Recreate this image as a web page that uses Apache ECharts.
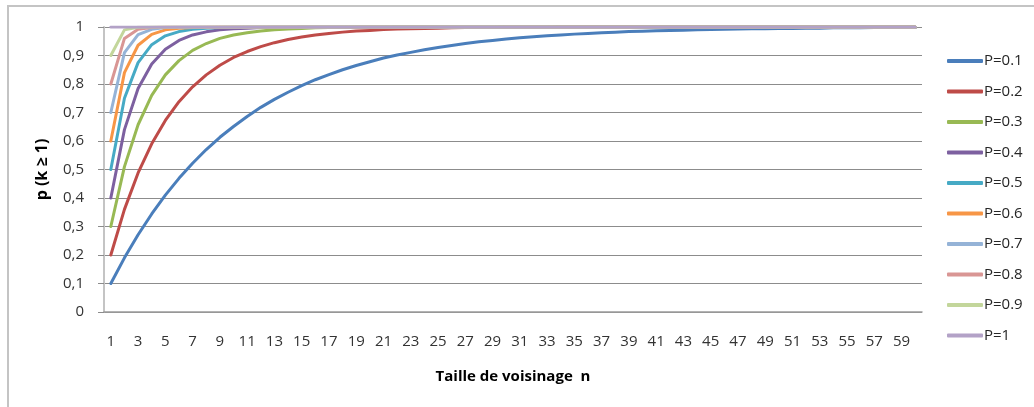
<!DOCTYPE html>
<html>
<head>
<meta charset="utf-8">
<script src="https://cdn.jsdelivr.net/npm/echarts@6/dist/echarts.min.js"></script>
<style>
  html, body { margin: 0; padding: 0; background: #ffffff; }
  #chart { width: 1034px; height: 407px; }
</style>
</head>
<body>
<div id="chart"></div>
<script>
// Neighbourhood size n (x axis categories)
const categories = [
  '1','2','3','4','5','6','7','8','9','10',
  '11','12','13','14','15','16','17','18','19','20',
  '21','22','23','24','25','26','27','28','29','30',
  '31','32','33','34','35','36','37','38','39','40',
  '41','42','43','44','45','46','47','48','49','50',
  '51','52','53','54','55','56','57','58','59','60'
];

const seriesNames = ['P=0.1','P=0.2','P=0.3','P=0.4','P=0.5','P=0.6','P=0.7','P=0.8','P=0.9','P=1'];

const p01 = [
  0.100,0.190,0.271,0.344,0.410,0.469,0.522,0.570,0.613,0.651,
  0.686,0.718,0.746,0.771,0.794,0.815,0.833,0.850,0.865,0.878,
  0.891,0.902,0.911,0.920,0.928,0.935,0.942,0.948,0.953,0.958,
  0.962,0.966,0.969,0.972,0.975,0.977,0.980,0.982,0.984,0.985,
  0.987,0.988,0.989,0.990,0.991,0.992,0.993,0.994,0.994,0.995,
  0.995,0.996,0.996,0.997,0.997,0.997,0.998,0.998,0.998,0.998
];
const p02 = [
  0.200,0.360,0.488,0.590,0.672,0.738,0.790,0.832,0.866,0.893,
  0.914,0.931,0.945,0.956,0.965,0.972,0.977,0.982,0.986,0.988,
  0.991,0.993,0.994,0.995,0.996,0.997,0.998,0.998,0.998,0.999,
  0.999,0.999,0.999,1,1,1,1,1,1,1,
  1,1,1,1,1,1,1,1,1,1,
  1,1,1,1,1,1,1,1,1,1
];
const p03 = [
  0.300,0.510,0.657,0.760,0.832,0.882,0.918,0.942,0.960,0.972,
  0.980,0.986,0.990,0.993,0.995,0.997,0.998,0.998,0.999,0.999,
  0.999,1,1,1,1,1,1,1,1,1,
  1,1,1,1,1,1,1,1,1,1,
  1,1,1,1,1,1,1,1,1,1,
  1,1,1,1,1,1,1,1,1,1
];
const p04 = [
  0.400,0.640,0.784,0.870,0.922,0.953,0.972,0.983,0.990,0.994,
  0.996,0.998,0.999,0.999,1,1,1,1,1,1,
  1,1,1,1,1,1,1,1,1,1,
  1,1,1,1,1,1,1,1,1,1,
  1,1,1,1,1,1,1,1,1,1,
  1,1,1,1,1,1,1,1,1,1
];
const p05 = [
  0.500,0.750,0.875,0.938,0.969,0.984,0.992,0.996,0.998,0.999,
  1,1,1,1,1,1,1,1,1,1,
  1,1,1,1,1,1,1,1,1,1,
  1,1,1,1,1,1,1,1,1,1,
  1,1,1,1,1,1,1,1,1,1,
  1,1,1,1,1,1,1,1,1,1
];
const p06 = [
  0.600,0.840,0.936,0.974,0.990,0.996,0.998,0.999,1,1,
  1,1,1,1,1,1,1,1,1,1,
  1,1,1,1,1,1,1,1,1,1,
  1,1,1,1,1,1,1,1,1,1,
  1,1,1,1,1,1,1,1,1,1,
  1,1,1,1,1,1,1,1,1,1
];
const p07 = [
  0.700,0.910,0.973,0.992,0.998,0.999,1,1,1,1,
  1,1,1,1,1,1,1,1,1,1,
  1,1,1,1,1,1,1,1,1,1,
  1,1,1,1,1,1,1,1,1,1,
  1,1,1,1,1,1,1,1,1,1,
  1,1,1,1,1,1,1,1,1,1
];
const p08 = [
  0.800,0.960,0.992,0.998,1,1,1,1,1,1,
  1,1,1,1,1,1,1,1,1,1,
  1,1,1,1,1,1,1,1,1,1,
  1,1,1,1,1,1,1,1,1,1,
  1,1,1,1,1,1,1,1,1,1,
  1,1,1,1,1,1,1,1,1,1
];
const p09 = [
  0.900,0.990,0.999,1,1,1,1,1,1,1,
  1,1,1,1,1,1,1,1,1,1,
  1,1,1,1,1,1,1,1,1,1,
  1,1,1,1,1,1,1,1,1,1,
  1,1,1,1,1,1,1,1,1,1,
  1,1,1,1,1,1,1,1,1,1
];
const p10 = [
  1,1,1,1,1,1,1,1,1,1,
  1,1,1,1,1,1,1,1,1,1,
  1,1,1,1,1,1,1,1,1,1,
  1,1,1,1,1,1,1,1,1,1,
  1,1,1,1,1,1,1,1,1,1,
  1,1,1,1,1,1,1,1,1,1
];

const seriesValues = [p01, p02, p03, p04, p05, p06, p07, p08, p09, p10];

const palette = [
  '#4A7EBB', '#BE4B48', '#98B954', '#7D60A0', '#46AAC5',
  '#F79646', '#95B3D7', '#D99694', '#C3D69B', '#B3A2C7'
];

const FONT = 'Open Sans';

const chart = echarts.init(document.getElementById('chart'), null, { renderer: 'canvas' });

chart.setOption({
  animation: false,
  color: palette,
  textStyle: { fontFamily: FONT },
  grid: { left: 104, right: 112, top: 27, bottom: 95, containLabel: false },
  legend: {
    orient: 'vertical',
    left: 947,
    top: 53,
    padding: 0,
    icon: 'roundRect',
    itemWidth: 36,
    itemHeight: 4,
    itemGap: 14.5,
    data: seriesNames,
    textStyle: { fontFamily: FONT, fontSize: 15, color: '#262626', lineHeight: 16, padding: [0, 0, 0, -4] }
  },
  xAxis: {
    type: 'category',
    data: categories,
    boundaryGap: true,
    name: 'Taille de voisinage  n',
    nameLocation: 'middle',
    nameGap: 57,
    nameTextStyle: { fontFamily: FONT, fontSize: 15, fontWeight: 'bold', color: '#000000' },
    axisLine: { lineStyle: { color: '#9a9a9a', width: 1.5 } },
    axisTick: { show: false },
    axisLabel: { interval: 1, margin: 22, fontSize: 15, color: '#333333', fontFamily: FONT },
    splitLine: { show: false }
  },
  yAxis: {
    type: 'value',
    min: 0,
    max: 1,
    interval: 0.1,
    name: 'p (k \u2265 1)',
    nameLocation: 'middle',
    nameGap: 54,
    nameTextStyle: { fontFamily: FONT, fontSize: 16, fontWeight: 'bold', color: '#000000' },
    axisLine: { show: true, lineStyle: { color: '#c4c4c4', width: 2 } },
    axisTick: { show: true, length: 6, lineStyle: { color: '#8c8c8c' } },
    axisLabel: {
      margin: 20,
      fontSize: 15,
      color: '#333333',
      fontFamily: FONT,
      formatter: v => (v === 0 || v === 1) ? String(v) : v.toFixed(1).replace('.', ',')
    },
    splitLine: { show: true, lineStyle: { color: '#8c8c8c', width: 1 } }
  },
  graphic: [
    {
      type: 'polyline',
      silent: true,
      shape: { points: [[8, 407], [8, 6], [1034, 6]] },
      style: { stroke: '#c4c4c4', lineWidth: 2, fill: null }
    }
  ],
  series: seriesNames.map((name, i) => ({
    name: name,
    type: 'line',
    data: seriesValues[i],
    showSymbol: false,
    symbol: 'none',
    lineStyle: { width: 3, cap: 'round', join: 'round' },
    emphasis: { disabled: true }
  }))
});
</script>
</body>
</html>
